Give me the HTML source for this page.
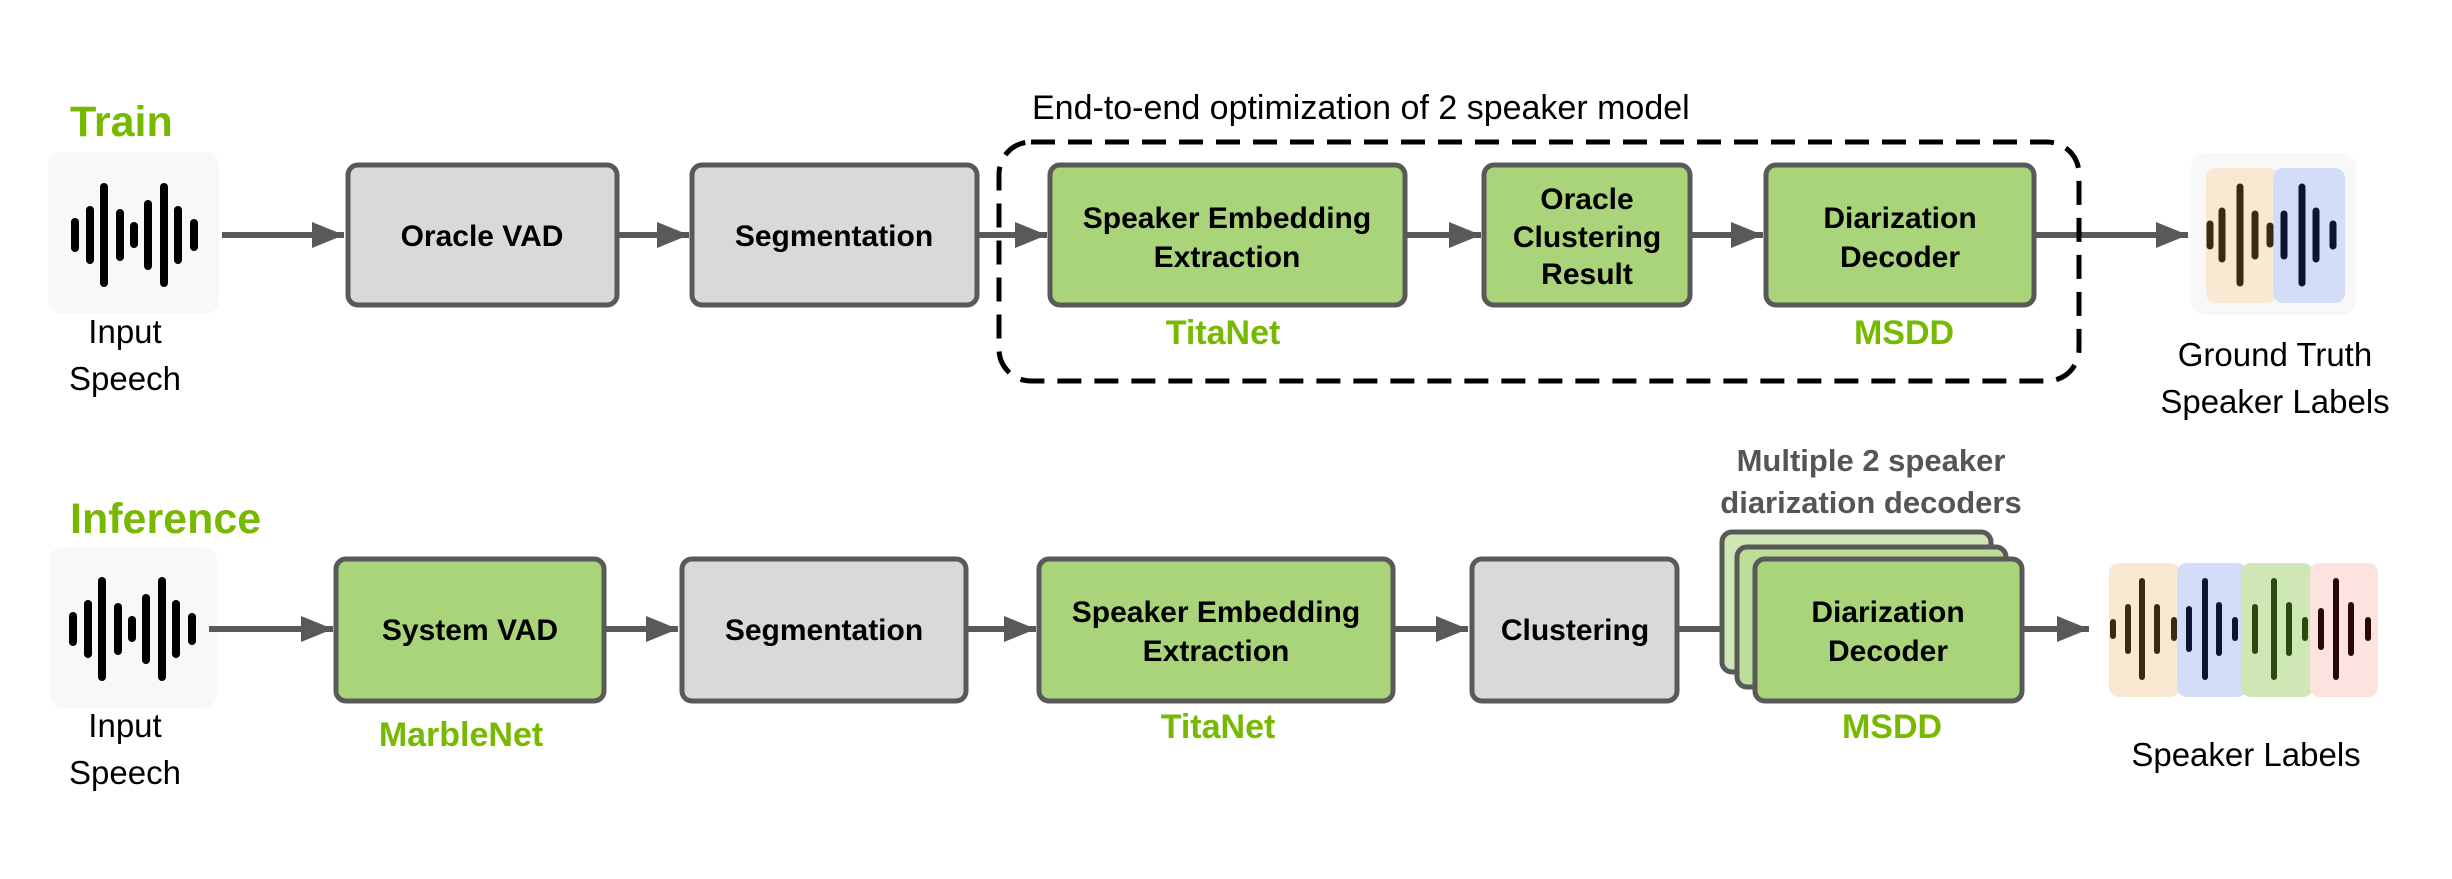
<!DOCTYPE html>
<html><head><meta charset="utf-8"><style>
html,body{margin:0;padding:0;background:#fff;}
svg{display:block;}
text{font-family:"Liberation Sans",sans-serif;}
.b{font-weight:bold;font-size:30px;fill:#000;text-anchor:middle;}
.g{font-weight:bold;font-size:34px;fill:#76b900;text-anchor:middle;}
.n{font-size:33px;fill:#000;text-anchor:middle;}
</style></head><body>
<svg width="2452" height="879" viewBox="0 0 2452 879" xmlns="http://www.w3.org/2000/svg">
<defs>
<marker id="ah" markerWidth="32" markerHeight="26" refX="32" refY="13" orient="auto" markerUnits="userSpaceOnUse">
<path d="M0,0 L32,13 L0,26 Z" fill="#595959"/></marker>
<g id="wave" stroke="#000" stroke-width="8" stroke-linecap="round">
<line x1="75" y1="-13" x2="75" y2="13"/><line x1="90" y1="-25" x2="90" y2="25"/>
<line x1="104" y1="-48" x2="104" y2="48"/><line x1="120" y1="-22" x2="120" y2="22"/>
<line x1="134" y1="-9" x2="134" y2="9"/><line x1="148" y1="-31" x2="148" y2="31"/>
<line x1="164" y1="-48" x2="164" y2="48"/><line x1="178" y1="-25" x2="178" y2="25"/>
<line x1="194" y1="-12" x2="194" y2="12"/></g>
</defs>

<!-- TRAIN -->
<text x="70" y="136" font-size="43" font-weight="bold" fill="#76b900">Train</text>
<rect x="48" y="152" width="171" height="162" rx="14" fill="#f8f8f8"/>
<use href="#wave" transform="translate(0,235)"/>
<text class="n" x="125" y="343">Input</text>
<text class="n" x="125" y="390">Speech</text>

<g stroke="#595959" stroke-width="6" fill="none">
<line x1="222" y1="235" x2="344" y2="235" marker-end="url(#ah)"/>
<line x1="618" y1="235" x2="689" y2="235" marker-end="url(#ah)"/>
<line x1="978" y1="235" x2="1047" y2="235" marker-end="url(#ah)"/>
<line x1="1406" y1="235" x2="1481" y2="235" marker-end="url(#ah)"/>
<line x1="1691" y1="235" x2="1763" y2="235" marker-end="url(#ah)"/>
<line x1="2035" y1="235" x2="2188" y2="235" marker-end="url(#ah)"/>
</g>

<g stroke="#595959" stroke-width="5">
<rect x="348" y="165" width="269" height="140" rx="10" fill="#d9d9d9"/>
<rect x="692" y="165" width="285" height="140" rx="10" fill="#d9d9d9"/>
<rect x="1050" y="165" width="355" height="140" rx="10" fill="#a9d479"/>
<rect x="1484" y="165" width="206" height="140" rx="10" fill="#a9d479"/>
<rect x="1766" y="165" width="268" height="140" rx="10" fill="#a9d479"/>
</g>
<text class="b" x="482" y="246">Oracle VAD</text>
<text class="b" x="834" y="246">Segmentation</text>
<text class="b" x="1227" y="228">Speaker Embedding</text>
<text class="b" x="1227" y="267">Extraction</text>
<text class="b" x="1587" y="209">Oracle</text>
<text class="b" x="1587" y="247">Clustering</text>
<text class="b" x="1587" y="284">Result</text>
<text class="b" x="1900" y="228">Diarization</text>
<text class="b" x="1900" y="267">Decoder</text>

<rect x="999" y="142" width="1080" height="239" rx="32" fill="none" stroke="#000" stroke-width="5" stroke-dasharray="24 13"/>
<text x="1032" y="119" font-size="34" fill="#000">End-to-end optimization of 2 speaker model</text>
<text class="g" x="1223" y="344">TitaNet</text>
<text class="g" x="1904" y="344">MSDD</text>

<rect x="2191" y="153" width="165" height="162" rx="14" fill="#f8f8f8"/>
<rect x="2206" y="168" width="71" height="135" rx="10" fill="#fae9d2"/>
<rect x="2273" y="168" width="72" height="135" rx="10" fill="#d3ddf7"/>
<g stroke-width="7" stroke-linecap="round">
<g stroke="#3a2a10"><line x1="2210" y1="224" x2="2210" y2="246"/><line x1="2222" y1="211" x2="2222" y2="259"/><line x1="2240" y1="187" x2="2240" y2="283"/><line x1="2255" y1="214" x2="2255" y2="256"/><line x1="2270" y1="226" x2="2270" y2="244"/></g>
<g stroke="#0b1431"><line x1="2284" y1="214" x2="2284" y2="256"/><line x1="2302" y1="187" x2="2302" y2="283"/><line x1="2316" y1="211" x2="2316" y2="259"/><line x1="2333" y1="224" x2="2333" y2="246"/></g>
</g>
<text class="n" x="2275" y="366">Ground Truth</text>
<text class="n" x="2275" y="413">Speaker Labels</text>

<!-- INFERENCE -->
<text x="70" y="533" font-size="43" font-weight="bold" fill="#76b900">Inference</text>
<rect x="49" y="547" width="168" height="161" rx="14" fill="#f8f8f8"/>
<use href="#wave" transform="translate(-2,629)"/>
<text class="n" x="125" y="737">Input</text>
<text class="n" x="125" y="784">Speech</text>

<text x="1871" y="471" font-size="31" font-weight="bold" fill="#555" text-anchor="middle">Multiple 2 speaker</text>
<text x="1871" y="513" font-size="31" font-weight="bold" fill="#555" text-anchor="middle">diarization decoders</text>

<g stroke="#595959" stroke-width="6" fill="none">
<line x1="209" y1="629" x2="333" y2="629" marker-end="url(#ah)"/>
<line x1="605" y1="629" x2="678" y2="629" marker-end="url(#ah)"/>
<line x1="967" y1="629" x2="1036" y2="629" marker-end="url(#ah)"/>
<line x1="1394" y1="629" x2="1468" y2="629" marker-end="url(#ah)"/>
<line x1="1678" y1="629" x2="1752" y2="629" marker-end="url(#ah)"/>
<line x1="2023" y1="629" x2="2089" y2="629" marker-end="url(#ah)"/>
</g>

<g stroke="#595959" stroke-width="5">
<rect x="336" y="559" width="268" height="142" rx="10" fill="#a9d479"/>
<rect x="682" y="559" width="284" height="142" rx="10" fill="#d9d9d9"/>
<rect x="1039" y="559" width="354" height="142" rx="10" fill="#a9d479"/>
<rect x="1472" y="559" width="205" height="142" rx="10" fill="#d9d9d9"/>
<rect x="1722" y="532" width="269" height="140" rx="10" fill="#cfe6b5"/>
<rect x="1737" y="547" width="269" height="140" rx="10" fill="#bcdd97"/>
<rect x="1755" y="559" width="267" height="142" rx="10" fill="#a9d479"/>
</g>
<text class="b" x="470" y="640">System VAD</text>
<text class="b" x="824" y="640">Segmentation</text>
<text class="b" x="1216" y="622">Speaker Embedding</text>
<text class="b" x="1216" y="661">Extraction</text>
<text class="b" x="1575" y="640">Clustering</text>
<text class="b" x="1888" y="622">Diarization</text>
<text class="b" x="1888" y="661">Decoder</text>
<text class="g" x="461" y="746">MarbleNet</text>
<text class="g" x="1218" y="738">TitaNet</text>
<text class="g" x="1892" y="738">MSDD</text>

<rect x="2109" y="563" width="71" height="134" rx="10" fill="#fae9d2"/>
<rect x="2177" y="563" width="70" height="134" rx="10" fill="#d3ddf7"/>
<rect x="2241" y="563" width="72" height="134" rx="10" fill="#cfe6b5"/>
<rect x="2310" y="563" width="68" height="134" rx="10" fill="#fde3e0"/>
<g stroke-width="6" stroke-linecap="round">
<g stroke="#3a2a10"><line x1="2113" y1="622" x2="2113" y2="636"/><line x1="2128" y1="607" x2="2128" y2="651"/><line x1="2142" y1="581" x2="2142" y2="677"/><line x1="2157" y1="607" x2="2157" y2="651"/><line x1="2174" y1="620" x2="2174" y2="638"/></g>
<g stroke="#0b1431"><line x1="2189" y1="609" x2="2189" y2="649"/><line x1="2205" y1="581" x2="2205" y2="677"/><line x1="2219" y1="605" x2="2219" y2="653"/><line x1="2235" y1="620" x2="2235" y2="638"/></g>
<g stroke="#2a4a12"><line x1="2255" y1="607" x2="2255" y2="651"/><line x1="2274" y1="581" x2="2274" y2="677"/><line x1="2289" y1="605" x2="2289" y2="653"/><line x1="2305" y1="620" x2="2305" y2="638"/></g>
<g stroke="#2a0808"><line x1="2321" y1="611" x2="2321" y2="647"/><line x1="2336" y1="581" x2="2336" y2="677"/><line x1="2351" y1="605" x2="2351" y2="653"/><line x1="2368" y1="620" x2="2368" y2="638"/></g>
</g>
<text class="n" x="2246" y="766">Speaker Labels</text>
</svg>
</body></html>
